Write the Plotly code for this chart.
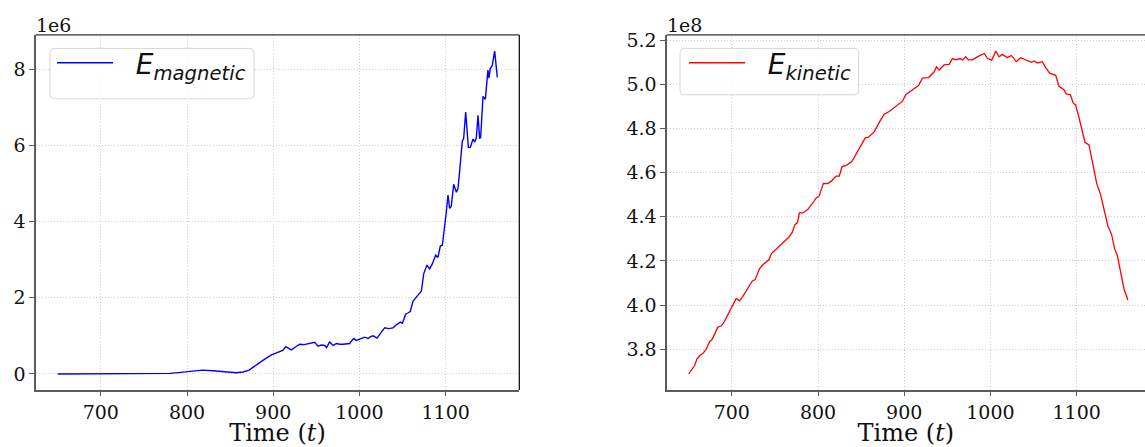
import plotly.graph_objects as go

# ---------------- data ----------------
t_mag = [650, 670, 690, 710, 730, 750, 770, 780, 790, 800, 810, 818, 830, 840, 850, 857, 865, 872,
         878, 884, 891, 898, 903, 907.5, 911, 914.5, 918.4, 921, 924, 927, 930.7, 936, 942.3, 948,
         952, 956, 959.7, 961.7, 965.5, 969.4, 973.3, 977, 981, 985, 988.7, 990.6, 993.3, 996.4,
         1002, 1006, 1010, 1013, 1015.7, 1020.4, 1025.4, 1029.3, 1034, 1039, 1042.8, 1047.5, 1049.8,
         1053.6, 1056, 1059, 1062, 1065, 1067.9, 1071.8, 1074.5, 1078.3, 1081.4, 1084.5, 1088.4,
         1091, 1093.8, 1096.1, 1098.5, 1100.5, 1102.7, 1104.6, 1106.5, 1109.3, 1112.4, 1114.3,
         1116.5, 1119.3, 1120.8, 1123.2, 1126.3, 1128.6, 1131.7, 1133.6, 1135.5, 1137.5, 1139.4,
         1140.6, 1143.3, 1146, 1149, 1150.2, 1151.7, 1154, 1156.8, 1159.9]
e_mag = [0, 0, 0, 0, 0, 0.002e6, 0.006e6, 0.015e6, 0.035e6, 0.06e6, 0.085e6, 0.10e6, 0.085e6,
         0.07e6, 0.045e6, 0.03e6, 0.05e6, 0.10e6, 0.2e6, 0.30e6, 0.40e6, 0.50e6, 0.55e6, 0.585e6,
         0.62e6, 0.715e6, 0.67e6, 0.63e6, 0.68e6, 0.73e6, 0.78e6, 0.77e6, 0.80e6, 0.83e6, 0.73e6,
         0.76e6, 0.75e6, 0.69e6, 0.84e6, 0.75e6, 0.80e6, 0.78e6, 0.78e6, 0.79e6, 0.80e6, 0.86e6,
         0.93e6, 0.88e6, 0.93e6, 0.965e6, 0.93e6, 0.98e6, 1.0e6, 0.94e6, 1.10e6, 1.21e6, 1.19e6,
         1.21e6, 1.29e6, 1.36e6, 1.33e6, 1.57e6, 1.60e6, 1.64e6, 1.91e6, 2.0e6, 2.07e6, 2.17e6,
         2.63e6, 2.86e6, 2.76e6, 2.89e6, 3.12e6, 3.06e6, 3.36e6, 3.38e6, 3.80e6, 4.2e6, 4.70e6,
         4.35e6, 4.40e6, 4.98e6, 4.77e6, 4.87e6, 5.4e6, 6.12e6, 6.17e6, 6.88e6, 5.95e6, 5.95e6,
         6.17e6, 6.09e6, 6.19e6, 6.79e6, 6.18e6, 6.22e6, 7.29e6, 7.21e6, 7.98e6, 7.77e6, 8.02e6,
         8.10e6, 8.48e6, 7.79e6]

t_kin = [650, 653, 656.8, 659.5, 662.6, 666.4, 670.4, 674.2, 677.3, 683.8, 687.7, 691.5, 695.4,
         700, 705.1, 708.9, 712.7, 718.5, 723.6, 727.1, 732.1, 735.9, 739.8, 743, 746, 752, 756,
         762.2, 766.1, 770.3, 773, 776, 778.4, 782.3, 788.1, 793.9, 797.7, 801.6, 806.2, 811.3,
         815.8, 820.9, 824.7, 827.8, 834.3, 839.4, 843.3, 847.9, 854.8, 858.7, 865.3, 871, 876.8,
         882.6, 888.4, 894.2, 898, 902, 909.7, 916.6, 921.2, 928.2, 934.8, 937.4, 940.5, 946.3,
         952.1, 955.9, 959.8, 964.8, 967.5, 971.4, 974.4, 979, 986.8, 993, 996.5, 1001.5, 1006.2,
         1010, 1013.9, 1019.7, 1024.3, 1030, 1035, 1042.7, 1047.4, 1050.5, 1054.3, 1060.1, 1064,
         1068.6, 1072, 1075.7, 1079.5, 1085.3, 1088, 1092.7, 1095.8, 1098.8, 1102.7, 1105.8,
         1109.6, 1114.3, 1118.1, 1123.2, 1127.8, 1132.8, 1136.2, 1140.5, 1144, 1147, 1150.2,
         1154.8, 1159.4]
e_kin = [3.688e8, 3.706e8, 3.725e8, 3.755e8, 3.77e8, 3.78e8, 3.80e8, 3.834e8, 3.845e8, 3.90e8,
         3.905e8, 3.926e8, 3.956e8, 3.986e8, 4.03e8, 4.019e8, 4.038e8, 4.075e8, 4.108e8, 4.115e8,
         4.164e8, 4.182e8, 4.194e8, 4.205e8, 4.233e8, 4.255e8, 4.267e8, 4.293e8, 4.307e8, 4.33e8,
         4.363e8, 4.372e8, 4.417e8, 4.417e8, 4.432e8, 4.462e8, 4.484e8, 4.495e8, 4.551e8, 4.55e8,
         4.562e8, 4.584e8, 4.584e8, 4.626e8, 4.636e8, 4.651e8, 4.678e8, 4.715e8, 4.757e8, 4.76e8,
         4.785e8, 4.827e8, 4.864e8, 4.876e8, 4.894e8, 4.912e8, 4.923e8, 4.953e8, 4.975e8, 4.994e8,
         5.027e8, 5.03e8, 5.056e8, 5.079e8, 5.064e8, 5.087e8, 5.09e8, 5.116e8, 5.11e8, 5.116e8,
         5.11e8, 5.124e8, 5.11e8, 5.11e8, 5.128e8, 5.139e8, 5.116e8, 5.109e8, 5.15e8, 5.124e8,
         5.135e8, 5.12e8, 5.13e8, 5.102e8, 5.12e8, 5.105e8, 5.099e8, 5.105e8, 5.096e8, 5.102e8,
         5.075e8, 5.05e8, 5.045e8, 5.04e8, 4.99e8, 4.975e8, 4.955e8, 4.953e8, 4.916e8, 4.905e8,
         4.849e8, 4.804e8, 4.737e8, 4.725e8, 4.655e8, 4.551e8, 4.499e8, 4.417e8, 4.358e8, 4.32e8,
         4.254e8, 4.227e8, 4.157e8, 4.075e8, 4.023e8]

x_ticks = [700, 800, 900, 1000, 1100]
x_tick_text = ["700", "800", "900", "1000", "1100"]
mag_ticks = [0, 2e6, 4e6, 6e6, 8e6]
mag_tick_text = ["0", "2", "4", "6", "8"]
kin_ticks = [3.8e8, 4.0e8, 4.2e8, 4.4e8, 4.6e8, 4.8e8, 5.0e8, 5.2e8]
kin_tick_text = ["3.8", "4.0", "4.2", "4.4", "4.6", "4.8", "5.0", "5.2"]
mag_label = "\u00a0\u00a0<i>E</i><sub><i>magnetic</i></sub>"
kin_label = "\u00a0\u00a0<i>E</i><sub><i>kinetic</i></sub>"
x_title = "Time (<i>t</i>)"

# ---------------- layout helpers ----------------
W, H = 1145, 447
AX_L1, AX_R1 = 35.7, 519.3
AX_L2 = 666.7
AX_T, AX_B = 29.3, 389.3
AXW = AX_R1 - AX_L1


def px(x):
    return x / W


def py(y):
    return 1 - y / H


def auto_range(vals, frac=1.0):
    lo, hi = min(vals), max(vals)
    m = 0.05 * (hi - lo)
    lo, hi = lo - m, hi + m
    return [lo, lo + (hi - lo) * frac]


def rounded_box(x0, y0, x1, y1, r):
    rx, ry = r / W, r / H
    X0, X1 = px(x0), px(x1)
    Y0, Y1 = py(y0), py(y1)  # Y0 top, Y1 bottom
    return (f"M{X0 + rx},{Y0} L{X1 - rx},{Y0} Q{X1},{Y0} {X1},{Y0 - ry} "
            f"L{X1},{Y1 + ry} Q{X1},{Y1} {X1 - rx},{Y1} L{X0 + rx},{Y1} "
            f"Q{X0},{Y1} {X0},{Y1 + ry} L{X0},{Y0 - ry} Q{X0},{Y0} {X0 + rx},{Y0} Z")


SERIF = "DejaVu Serif"
SPINE = "#5c5c5c"
GRID = "#cdcdcd"

fig = go.Figure()
fig.add_trace(go.Scatter(x=t_mag, y=e_mag, mode="lines", name=mag_label,
                         line=dict(color="#0000ff", width=1.4), xaxis="x", yaxis="y",
                         legend="legend"))
fig.add_trace(go.Scatter(x=t_kin, y=e_kin, mode="lines", name=kin_label,
                         line=dict(color="#ff0000", width=1.3), xaxis="x2", yaxis="y2",
                         legend="legend2"))

xr1 = auto_range(t_mag)
xr2 = auto_range(t_mag, (W - AX_L2) / AXW)
yr1 = auto_range(e_mag)
yr2 = auto_range(e_kin)

common_axis = dict(showline=True, linecolor=SPINE, linewidth=1.6, mirror=False,
                   ticks="outside", ticklen=4.5, tickwidth=1.3, tickcolor=SPINE,
                   showgrid=True, gridcolor=GRID, griddash="1px,2px", gridwidth=1,
                   zeroline=False, tickfont=dict(family=SERIF, size=19, color="#111111"))

fig.update_layout(
    width=W, height=H, margin=dict(l=0, r=0, t=0, b=0),
    paper_bgcolor="white", plot_bgcolor="white",
    xaxis=dict(domain=[px(AX_L1), px(AX_R1)], range=xr1, anchor="y",
               tickvals=x_ticks, ticktext=x_tick_text,
               title=dict(text=x_title, font=dict(family=SERIF, size=24, color="#111111"), standoff=4),
               **common_axis),
    yaxis=dict(domain=[py(AX_B), py(AX_T)], range=yr1, anchor="x",
               tickvals=mag_ticks, ticktext=mag_tick_text, **common_axis),
    xaxis2=dict(domain=[px(AX_L2), 1.0], range=xr2, anchor="y2",
                tickvals=x_ticks, ticktext=x_tick_text,
                title=dict(text=x_title, font=dict(family=SERIF, size=24, color="#111111"), standoff=4),
                **common_axis),
    yaxis2=dict(domain=[py(AX_B), py(AX_T)], range=yr2, anchor="x2",
                tickvals=kin_ticks, ticktext=kin_tick_text, **common_axis),
    legend=dict(x=px(52), y=py(32.5), xanchor="left", yanchor="top",
                bgcolor="rgba(0,0,0,0)", borderwidth=0, itemwidth=56,
                font=dict(family="DejaVu Sans", size=28, color="#111111")),
    legend2=dict(x=px(684), y=py(32.5), xanchor="left", yanchor="top",
                 bgcolor="rgba(0,0,0,0)", borderwidth=0, itemwidth=56,
                 font=dict(family="DejaVu Sans", size=28, color="#111111")),
    showlegend=True,
)

shapes = []
# top/right spines (thin black)
shapes.append(dict(type="line", xref="x domain", yref="y domain", x0=0, x1=1, y0=1, y1=1,
                   line=dict(color="black", width=1)))
shapes.append(dict(type="line", xref="x domain", yref="y domain", x0=1, x1=1, y0=0, y1=1,
                   line=dict(color="black", width=1.2)))
shapes.append(dict(type="line", xref="x2 domain", yref="y2 domain", x0=0, x1=1, y0=1, y1=1,
                   line=dict(color="black", width=1)))
# legend frames
shapes.append(dict(type="path", xref="paper", yref="paper", path=rounded_box(50, 43, 254, 94, 4),
                   fillcolor="rgba(255,255,255,0.85)", line=dict(color="#d6d6d6", width=1),
                   layer="above"))
shapes.append(dict(type="path", xref="paper", yref="paper", path=rounded_box(680, 43, 858.7, 90, 4),
                   fillcolor="rgba(255,255,255,0.85)", line=dict(color="#d6d6d6", width=1),
                   layer="above"))
fig.update_layout(shapes=shapes)

# offset texts
fig.add_annotation(text="1e6", xref="paper", yref="paper", x=px(34), y=py(19.5),
                   xanchor="left", yanchor="middle", showarrow=False,
                   font=dict(family=SERIF, size=19, color="#111111"))
fig.add_annotation(text="1e8", xref="paper", yref="paper", x=px(665), y=py(19.5),
                   xanchor="left", yanchor="middle", showarrow=False,
                   font=dict(family=SERIF, size=19, color="#111111"))

fig.write_html("out.html")
